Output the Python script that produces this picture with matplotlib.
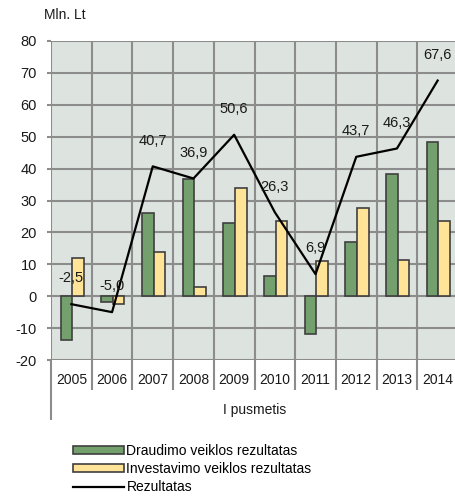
import numpy as np
import matplotlib
matplotlib.use('Agg')
import matplotlib.pyplot as plt
from matplotlib.patches import Patch
from matplotlib.lines import Line2D

plt.rcParams['font.family'] = ['Liberation Sans', 'DejaVu Sans']

years = ['2005', '2006', '2007', '2008', '2009', '2010', '2011', '2012', '2013', '2014']
draudimo = [-13.6, -1.8, 26.2, 36.7, 22.8, 6.3, -12.0, 17.0, 38.2, 48.2]
investavimo = [11.9, -2.4, 13.9, 2.8, 33.9, 23.6, 10.9, 27.5, 11.3, 23.6]
rezultatas = [-2.5, -5.0, 40.7, 36.9, 50.6, 26.3, 6.9, 43.7, 46.3, 67.6]
yticks = [-20, -10, 0, 10, 20, 30, 40, 50, 60, 70, 80]

green = '#73A06C'
yellow = '#FFE497'
edge = '#3F3F3F'
grid_c = '#8C8C8C'
bg = '#DDE3DF'
fs = 10

fig = plt.figure(figsize=(4.55, 5.01), dpi=100)
ax = fig.add_axes([51 / 455, 141 / 501, 407 / 455, 319 / 501])
ax.set_facecolor(bg)

x = np.arange(len(years))
w = 0.285
ax.bar(x - w / 2 + 0.02, draudimo, w, color=green, edgecolor=edge, linewidth=1.2, zorder=3)
ax.bar(x + w / 2 + 0.02, investavimo, w, color=yellow, edgecolor=edge, linewidth=1.2, zorder=3)
ax.plot(x, rezultatas, color='black', linewidth=1.6, zorder=4)

for xi, v in zip(x, rezultatas):
    ax.annotate(f'{v:.1f}'.replace('.', ','), (xi, v), xytext=(0, 18.5),
                textcoords='offset points', ha='center', va='center',
                fontsize=fs + 0.5, color='#1A1A1A', zorder=5)

ax.set_xlim(-0.5, len(years) - 0.5)
ax.set_ylim(-20, 80)
ax.set_yticks(yticks)
ax.set_yticklabels([str(t) for t in yticks], fontsize=fs + 0.5, color='#1A1A1A')
ax.set_xticks(x)
ax.set_xticklabels(years, fontsize=fs, color='#1A1A1A')
ax.tick_params(axis='x', length=0, pad=9)
ax.tick_params(axis='y', length=3, width=1.5, color=grid_c, pad=7)

for yv in yticks:
    ax.axhline(yv, color=grid_c, linewidth=1.5, zorder=1)
for b in np.arange(-0.5, len(years), 1.0):
    ax.axvline(b, color=grid_c, linewidth=1.5, zorder=1)
for s in ax.spines.values():
    s.set_visible(False)

# category separators below the plot area
ax.vlines(np.arange(0.5, len(years) - 1, 1.0), -29.4, -20, color=grid_c, linewidth=1.5, clip_on=False)
ax.vlines([-0.5], -38.8, -20, color=grid_c, linewidth=1.5, clip_on=False)

ax.text(4.5, -35.8, 'I pusmetis', ha='center', va='center', fontsize=fs, color='#1A1A1A')
fig.text(44 / 455, 1 - 15 / 501, 'Mln. Lt', ha='left', va='center', fontsize=fs, color='#1A1A1A')

handles = [Patch(facecolor=green, edgecolor=edge, linewidth=1.2),
           Patch(facecolor=yellow, edgecolor=edge, linewidth=1.2),
           Line2D([0], [0], color='black', linewidth=1.6)]
labels = ['Draudimo veiklos rezultatas', 'Investavimo veiklos rezultatas', 'Rezultatas']
fig.legend(handles, labels, loc='upper left', bbox_to_anchor=(73 / 455, 1 - 444 / 501),
           frameon=False, fontsize=fs, borderpad=0, borderaxespad=0,
           handlelength=3.7, handleheight=0.45, handletextpad=0.15, labelspacing=0.3)

fig.savefig('out.png', dpi=100)
